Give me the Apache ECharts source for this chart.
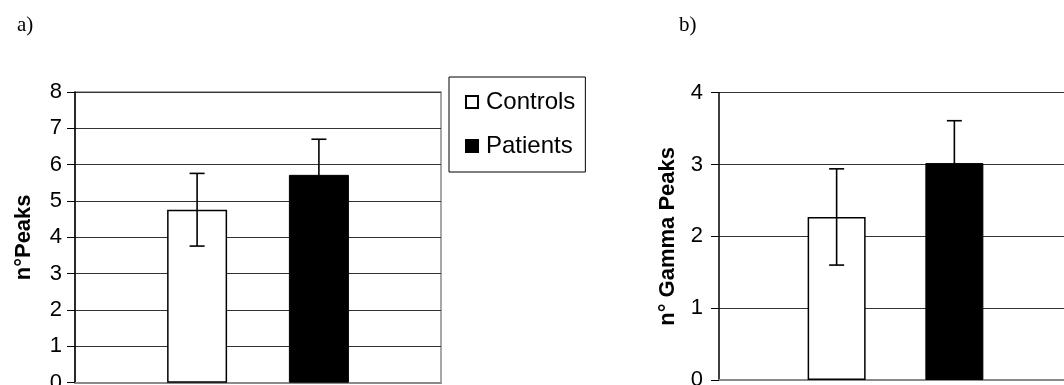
<!DOCTYPE html>
<html>
<head>
<meta charset="utf-8">
<script src="https://cdn.jsdelivr.net/npm/echarts@6/dist/echarts.min.js"></script>
<style>
html,body{margin:0;padding:0;background:#fff;}
#chart{width:1064px;height:385px;}
</style>
</head>
<body>
<div id="chart"></div>
<script>
// ---- data ----
var seriesNames = ['Controls', 'Patients'];
var categories = [''];
var peaksMean = [4.76, 5.72];
var peaksSD = [1.0, 0.98];
var gammaMean = [2.27, 3.02];
var gammaSD = [0.67, 0.59];
var panelTitles = ['a)', 'b)'];
var yNames = ['n°Peaks', 'n° Gamma Peaks'];
var yTicksA = [0, 1, 2, 3, 4, 5, 6, 7, 8];
var yTicksB = [0, 1, 2, 3, 4];

var FONT = 'Liberation Sans, Arial, sans-serif';
var barStyles = [
  {color: '#ffffff', borderColor: '#000', borderWidth: 1.5},
  {color: '#000000', borderColor: '#000', borderWidth: 1}
];
var BW = [60, 58];
var GAP = 1.03;

function errSeries(gi, means, sds) {
  var data = means.map(function (m, i) { return [i, m - sds[i], m + sds[i]]; });
  return {
    type: 'custom', xAxisIndex: gi, yAxisIndex: gi, silent: true, z: 10,
    data: data,
    renderItem: function (params, api) {
      var si = api.value(0);
      var bw = BW[gi];
      var off = (si === 0 ? -1 : 1) * (bw + bw * GAP) / 2;
      var lo = api.coord([0, api.value(1)]);
      var hi = api.coord([0, api.value(2)]);
      var x = lo[0] + off;
      var cap = 7.5;
      var st = {stroke: '#000', lineWidth: 1.6};
      return {type: 'group', children: [
        {type: 'line', shape: {x1: x, y1: lo[1], x2: x, y2: hi[1]}, style: st},
        {type: 'line', shape: {x1: x - cap, y1: hi[1], x2: x + cap, y2: hi[1]}, style: st},
        {type: 'line', shape: {x1: x - cap, y1: lo[1], x2: x + cap, y2: lo[1]}, style: st}
      ]};
    }
  };
}

function yAxis(gi, ticks, name, gap, margin) {
  return {
    type: 'value', gridIndex: gi, min: ticks[0], max: ticks[ticks.length - 1], interval: 1,
    name: name, nameLocation: 'middle', nameRotate: 90, nameGap: gap,
    nameTextStyle: {fontFamily: FONT, fontSize: 22, fontWeight: 'bold', color: '#000'},
    axisLine: {show: true, lineStyle: {color: '#000', width: 1.5}},
    axisTick: {show: true, inside: false, length: 8, lineStyle: {color: '#000', width: 1}},
    axisLabel: {fontFamily: FONT, fontSize: 22, color: '#000', margin: margin},
    splitLine: {show: true, lineStyle: {color: '#333', width: 1.2}}
  };
}

var chart = echarts.init(document.getElementById('chart'));
var option = {
  animation: false,
  backgroundColor: '#fff',
  graphic: [
    {type: 'text', left: 17, top: 15, style: {text: panelTitles[0], font: '21px "Liberation Serif", "Times New Roman", serif', fill: '#000'}},
    {type: 'text', left: 679, top: 15, style: {text: panelTitles[1], font: '21px "Liberation Serif", "Times New Roman", serif', fill: '#000'}}
  ],
  legend: {
    data: seriesNames,
    orient: 'vertical',
    left: 449, top: 77,
    padding: [13, 10, 14, 16],
    itemGap: 20,
    itemWidth: 12, itemHeight: 12,
    icon: 'rect',
    borderColor: '#000', borderWidth: 1,
    textStyle: {fontFamily: FONT, fontSize: 24, color: '#000', padding: [0, 0, 0, 3]}
  },
  grid: [
    {left: 75, top: 92, width: 366, height: 290.7, outerBoundsMode: 'none', containLabel: false, show: true, borderColor: '#8a8a8a', borderWidth: 1.5, backgroundColor: 'transparent'},
    {left: 719, top: 92.7, width: 353, height: 287.3, outerBoundsMode: 'none', containLabel: false}
  ],
  xAxis: [
    {type: 'category', gridIndex: 0, data: categories, axisLine: {lineStyle: {color: '#8a8a8a', width: 2}}, axisTick: {show: false}, axisLabel: {show: false}},
    {type: 'category', gridIndex: 1, data: categories, axisLine: {lineStyle: {color: '#8a8a8a', width: 2}}, axisTick: {show: false}, axisLabel: {show: false}}
  ],
  yAxis: [
    yAxis(0, yTicksA, yNames[0], 40, 13),
    yAxis(1, yTicksB, yNames[1], 40, 16)
  ],
  series: [
    {name: seriesNames[0], type: 'bar', xAxisIndex: 0, yAxisIndex: 0, data: [peaksMean[0]], barWidth: BW[0], barGap: '103%', itemStyle: barStyles[0]},
    {name: seriesNames[1], type: 'bar', xAxisIndex: 0, yAxisIndex: 0, data: [peaksMean[1]], barWidth: BW[0], barGap: '103%', itemStyle: barStyles[1]},
    {name: seriesNames[0], type: 'bar', xAxisIndex: 1, yAxisIndex: 1, data: [gammaMean[0]], barWidth: BW[1], barGap: '103%', itemStyle: barStyles[0]},
    {name: seriesNames[1], type: 'bar', xAxisIndex: 1, yAxisIndex: 1, data: [gammaMean[1]], barWidth: BW[1], barGap: '103%', itemStyle: barStyles[1]},
    errSeries(0, peaksMean, peaksSD),
    errSeries(1, gammaMean, gammaSD)
  ]
};
chart.setOption(option);
</script>
</body>
</html>
